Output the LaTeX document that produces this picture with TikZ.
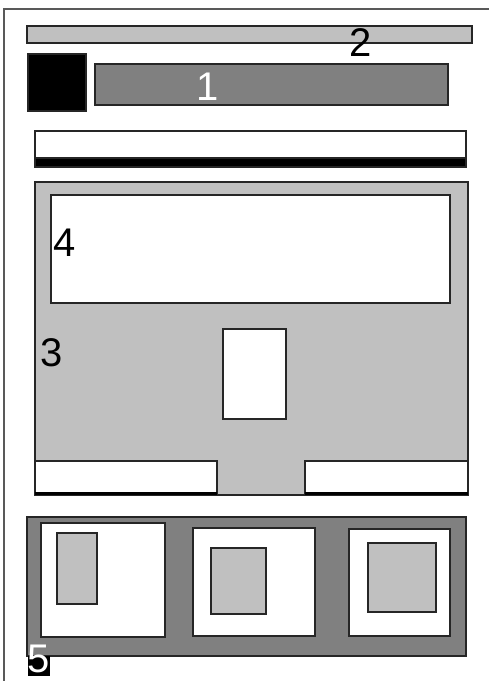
\documentclass[tikz,border=0pt]{standalone}
\usepackage{fontspec}
\setmainfont{Liberation Sans}
\usepackage{xcolor}
\usetikzlibrary{positioning}

\definecolor{lgray}{HTML}{C0C0C0}
\definecolor{dgray}{HTML}{808080}

\begin{document}
\begin{tikzpicture}[
    x=1pt,y=-1pt,
    box/.style={draw=black!85,line width=1.5pt},
    lbox/.style={box,fill=lgray},
    dbox/.style={box,fill=dgray},
    wbox/.style={box,fill=white},
    num/.style={font=\fontsize{40}{40}\selectfont,inner sep=0pt}
  ]
    \useasboundingbox (0,0) rectangle (489,681);

    % page frame
    \draw[line width=2pt,draw=black!65] (4,681) -- (4,9) -- (489,9);

    % header
    \draw[lbox] (27,26) rectangle (472,43);
    \draw[box,fill=black] (28,54) rectangle (86,111);
    \draw[dbox] (95,64) rectangle (448,105);
    \node[num,text=white] (one) at (208,87) {1};
    \node[num] (two) at (361,43) {2};

    % menu bar
    \draw[wbox] (35,131) rectangle (466,158);
    \draw[box,fill=black] (35,158) rectangle (466,167);

    % main area
    \draw[lbox] (35,182) rectangle (468,495);
    \draw[wbox] (51,195) rectangle (450,303);
    \draw[wbox] (223,329) rectangle (286,419);
    \draw[wbox] (35,461) rectangle (217,493);
    \draw[wbox] (305,461) rectangle (468,493);
    \draw[line width=3pt] (35,493) -- (217,493);
    \draw[line width=3pt] (305,493) -- (468,493);
    \node[num] (four) at (65,243) {4};
    \node[num] (three) at (52,353) {3};

    % footer panels
    \draw[dbox] (27,517) rectangle (466,656);
    \draw[wbox] (41,523) rectangle (165,637);
    \draw[lbox] (57,533) rectangle (97,604);
    \draw[wbox] (193,528) rectangle (315,636);
    \draw[lbox] (211,548) rectangle (266,614);
    \draw[wbox] (349,529) rectangle (450,636);
    \draw[lbox] (368,543) rectangle (436,612);
    \fill[black] (28,656) rectangle (50,676);
    \node[num,text=white] (five) at (39,659) {5};
\end{tikzpicture}
\end{document}
